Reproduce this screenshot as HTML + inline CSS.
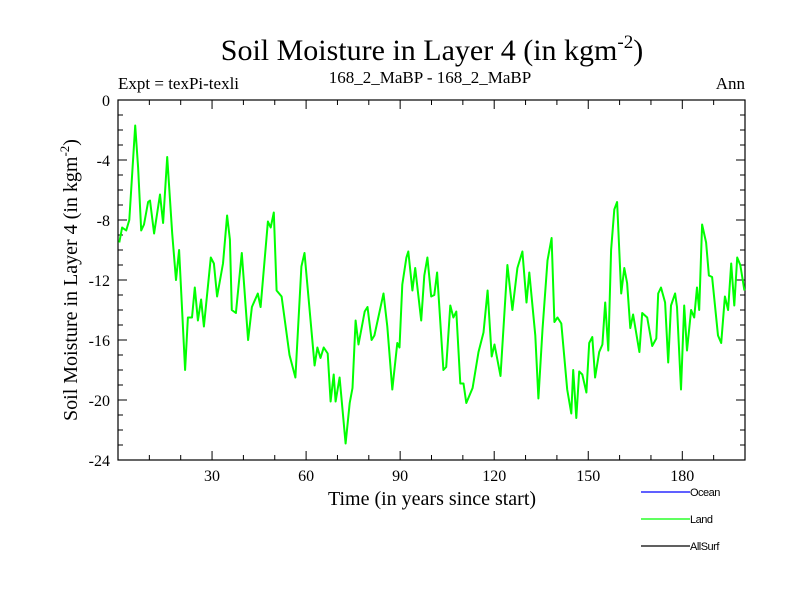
<!DOCTYPE html>
<html><head><meta charset="utf-8"><style>
body{margin:0;background:#fff;}
svg{display:block;font-family:"Liberation Serif",serif;}
</style></head><body>
<svg id="chart" width="800" height="600" viewBox="0 0 800 600">
<text x="432" y="60" font-size="30" text-anchor="middle">Soil Moisture in Layer 4 (in kgm<tspan dy="-12" font-size="19">-2</tspan><tspan dy="12">)</tspan></text>
<text x="118" y="89" font-size="17">Expt = texPi-texli</text>
<text x="430" y="83" font-size="17" text-anchor="middle">168_2_MaBP - 168_2_MaBP</text>
<text x="745" y="89" font-size="17" text-anchor="end">Ann</text>
<text x="432" y="505" font-size="20" text-anchor="middle">Time (in years since start)</text>
<text transform="translate(77,280) rotate(-90)" font-size="20" text-anchor="middle">Soil Moisture in Layer 4 (in kgm<tspan dy="-8" font-size="13">-2</tspan><tspan dy="8">)</tspan></text>
<g id="axes"></g>
<g id="series"></g>
<g>
<line x1="641" y1="492" x2="690" y2="492" stroke="#0000ff" stroke-width="1.2"/>
<text x="690" y="496" font-family="Liberation Sans,sans-serif" font-size="11" letter-spacing="-0.5">Ocean</text>
<line x1="641" y1="519" x2="690" y2="519" stroke="#00ff00" stroke-width="1.2"/>
<text x="690" y="523" font-family="Liberation Sans,sans-serif" font-size="11" letter-spacing="-0.5">Land</text>
<line x1="641" y1="546" x2="690" y2="546" stroke="#000" stroke-width="1.2"/>
<text x="690" y="550" font-family="Liberation Sans,sans-serif" font-size="11" letter-spacing="-0.5">AllSurf</text>
</g>
</svg>
<script>
const years=[0.4,1.3,2.6,3.6,5.5,6.4,7.4,8.3,9.6,10.2,11.5,13.4,14.4,15.7,17.3,18.5,19.5,21.4,22.3,23.6,24.5,25.5,26.5,27.4,29.6,30.6,31.6,33.5,34.8,35.7,36.3,37.6,39.5,41.5,42.7,44.6,45.5,47.8,48.7,49.7,50.6,52.2,54.7,56.6,58.5,59.5,62.7,63.6,64.6,65.6,66.9,67.8,68.8,69.4,70.7,72.6,73.9,74.8,75.8,76.7,78.7,79.6,80.9,81.8,84.7,85.9,87.5,89.1,89.8,90.7,92.0,92.6,93.9,94.8,96.7,97.7,98.7,99.9,100.9,101.8,103.8,104.7,106.0,107.0,107.9,109.2,110.2,111.1,113.1,115.0,116.6,117.9,119.2,120.1,122.0,124.2,125.8,127.4,129.0,130.3,131.2,133.1,134.1,135.4,137.0,138.3,139.2,140.2,141.4,143.3,144.6,145.2,146.2,147.1,148.1,149.4,150.3,151.3,152.2,153.5,154.5,155.4,156.4,157.3,158.3,159.2,160.5,161.5,162.4,163.4,164.3,166.3,167.2,168.8,170.4,171.7,172.3,173.2,174.5,175.5,176.4,177.7,178.3,179.6,180.6,181.5,182.8,183.8,184.7,185.4,186.3,187.6,188.5,189.5,191.4,192.4,193.6,194.6,195.6,196.6,197.5,198.5,199.8];
const landValues=[-9.5,-8.5,-8.7,-8.0,-1.7,-4.5,-8.7,-8.3,-6.8,-6.7,-8.9,-6.3,-8.2,-3.8,-8.9,-12.0,-10.0,-18.0,-14.5,-14.5,-12.5,-14.7,-13.3,-15.1,-10.5,-10.9,-13.1,-10.9,-7.7,-9.3,-14.0,-14.2,-10.2,-16.0,-13.8,-12.9,-13.8,-8.1,-8.5,-7.5,-12.7,-13.1,-17.0,-18.5,-11.1,-10.2,-17.7,-16.5,-17.2,-16.5,-16.9,-20.1,-18.3,-20.1,-18.5,-22.9,-20.2,-19.2,-14.7,-16.3,-14.1,-13.8,-16.0,-15.7,-12.9,-15.1,-19.3,-16.2,-16.5,-12.3,-10.5,-10.1,-12.7,-11.2,-14.7,-11.7,-10.5,-13.1,-13.0,-11.5,-18.0,-17.8,-13.7,-14.5,-14.1,-18.9,-18.9,-20.2,-19.2,-16.8,-15.5,-12.7,-17.1,-16.3,-18.4,-11.0,-14.0,-11.2,-10.1,-13.5,-11.5,-15.7,-19.9,-15.3,-10.7,-9.2,-14.8,-14.5,-14.9,-19.3,-20.9,-18.0,-21.2,-18.1,-18.3,-19.5,-16.2,-15.8,-18.5,-16.8,-16.3,-13.5,-16.7,-10.0,-7.3,-6.8,-12.9,-11.2,-12.2,-15.2,-14.3,-16.8,-14.2,-14.5,-16.4,-15.9,-12.9,-12.5,-13.5,-17.5,-13.7,-12.9,-13.8,-19.3,-13.7,-16.7,-14.0,-14.5,-12.5,-14.0,-8.3,-9.5,-11.7,-11.8,-15.7,-16.2,-13.1,-14.0,-10.9,-13.7,-10.5,-11.0,-12.7];
const xTicks=[30,60,90,120,150,180];
const yTicks=[0,-4,-8,-12,-16,-20,-24];
const NS='http://www.w3.org/2000/svg';
const L=118,R=745,T=100,B=460,xMin=0,xMax=200,yMin=-24,yMax=0;
function sx(v){return L+(v-xMin)/(xMax-xMin)*(R-L);}
function sy(v){return T+(yMax-v)/(yMax-yMin)*(B-T);}
function mk(tag,attrs,parent){const e=document.createElementNS(NS,tag);for(const k in attrs)e.setAttribute(k,attrs[k]);parent.appendChild(e);return e;}
const ax=document.getElementById('axes');
const frame=mk('rect',{x:L,y:T,width:R-L,height:B-T,fill:'none',stroke:'#000','stroke-width':1.2},ax);


for(let v=10;v<xMax;v+=10){const x=sx(v);const maj=v%30===0;const len=maj?9:5;
 const t1=mk('line',{x1:x,y1:B,x2:x,y2:B-len,stroke:'#000'},ax);
 
 
 const t2=mk('line',{x1:x,y1:T,x2:x,y2:T+len,stroke:'#000'},ax);
 
 }
for(let v=yMin+1;v<yMax;v++){const y=sy(v);const maj=v%4===0;const len=maj?9:5;
 const t1=mk('line',{x1:L,y1:y,x2:L+len,y2:y,stroke:'#000'},ax);
 
 
 const t2=mk('line',{x1:R,y1:y,x2:R-len,y2:y,stroke:'#000'},ax);
 
 }
xTicks.forEach(v=>{const t=mk('text',{x:sx(v),y:481,'font-size':16,'text-anchor':'middle'},ax);t.textContent=v;
 
 });
yTicks.forEach(v=>{const t=mk('text',{x:110,y:sy(v)+6,'font-size':16,'text-anchor':'end'},ax);t.textContent=v;
 
 });
const pts=years.map((yr,i)=>sx(yr).toFixed(1)+','+sy(landValues[i]).toFixed(1)).join(' ');
const line=mk('polyline',{points:pts,fill:'none',stroke:'#00ff00','stroke-width':2,'stroke-linejoin':'round'},document.getElementById('series'));


</script>
</body></html>
